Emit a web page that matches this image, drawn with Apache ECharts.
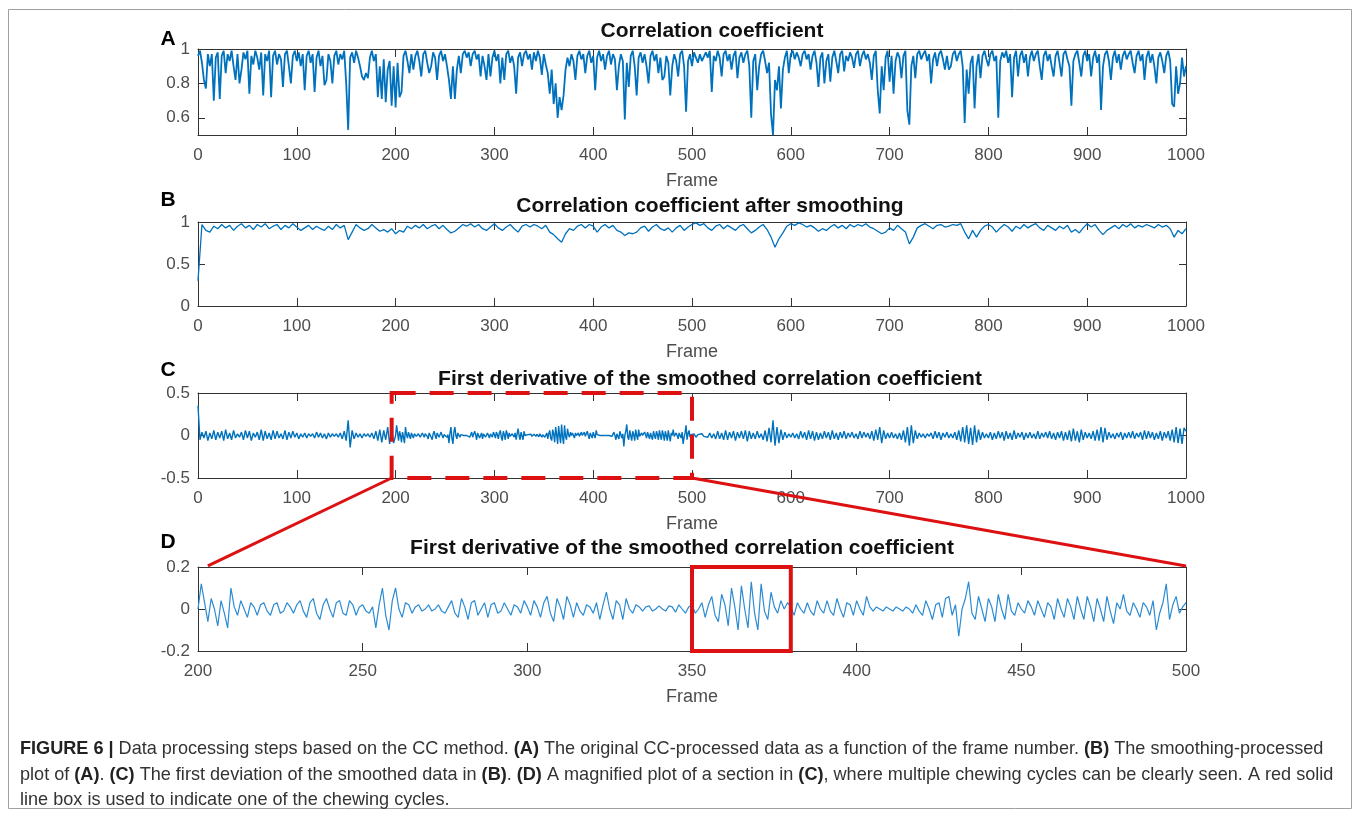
<!DOCTYPE html>
<html>
<head>
<meta charset="utf-8">
<script src="https://cdn.jsdelivr.net/npm/echarts@6/dist/echarts.min.js"></script>
<style>html,body{margin:0;padding:0;background:#fff;}#c{width:1360px;height:816px;}</style>
</head>
<body>
<div id="c"></div>
<script>
// ---------- DATA ----------
// Panel A: correlation coefficient, one value every 2 frames (frames 0..1000)
const aStep = 2;
const aValues = [
0.96,0.99,0.92,0.82,0.77,0.97,0.9,0.97,0.70,0.95,0.98,0.71,0.96,0.99,0.86,0.97,0.93,0.99,0.9,0.82,0.97,0.8,0.88,0.98,0.94,0.99,0.74,0.96,0.91,0.99,0.95,0.88,0.98,0.73,0.97,0.93,0.99,0.72,0.96,0.99,0.91,0.97,0.94,0.78,0.97,0.99,0.9,0.8,0.96,0.99,
0.93,0.98,0.9,0.97,0.76,0.96,0.99,0.92,0.97,0.75,0.95,0.99,0.9,0.96,0.79,0.82,0.97,0.93,0.8,0.96,0.99,0.91,0.97,0.94,0.99,0.8,0.53,0.95,0.98,0.92,0.99,0.95,0.9,0.84,0.82,0.86,0.83,0.95,0.99,0.93,0.97,0.72,0.9,0.71,0.94,0.69,0.88,0.93,0.67,0.9,
0.66,0.92,0.72,0.75,0.96,0.99,0.93,0.86,0.97,0.88,0.96,0.99,0.93,0.84,0.97,0.99,0.92,0.86,0.9,0.98,0.95,0.82,0.96,0.99,0.93,0.97,0.9,0.82,0.71,0.9,0.71,0.88,0.96,0.86,0.97,0.99,0.95,0.98,0.9,0.97,0.99,0.94,0.97,0.84,0.96,0.9,0.82,0.97,0.84,0.95,
0.99,0.93,0.97,0.8,0.95,0.82,0.97,0.99,0.92,0.96,0.9,0.74,0.95,0.98,0.9,0.97,0.99,0.94,0.97,0.88,0.98,0.93,0.99,0.95,0.85,0.97,0.91,0.86,0.74,0.88,0.68,0.8,0.6,0.72,0.645,0.73,0.88,0.95,0.9,0.97,0.93,0.82,0.96,0.99,0.94,0.97,0.86,0.96,0.99,0.92,
0.96,0.76,0.95,0.99,0.93,0.97,0.88,0.96,0.99,0.91,0.97,0.94,0.76,0.9,0.97,0.93,0.59,0.92,0.78,0.96,0.99,0.9,0.73,0.95,0.98,0.92,0.97,0.9,0.8,0.96,0.99,0.93,0.97,0.86,0.95,0.82,0.84,0.96,0.92,0.73,0.9,0.97,0.93,0.84,0.97,0.99,0.9,0.635,0.93,0.97,
0.9,0.98,0.95,0.92,0.97,0.93,0.92,0.98,0.95,0.99,0.75,0.96,0.93,0.99,0.95,0.84,0.97,0.99,0.93,0.97,0.88,0.96,0.99,0.83,0.95,0.98,0.92,0.97,0.99,0.9,0.6,0.93,0.97,0.76,0.9,0.97,0.99,0.93,0.86,0.92,0.62,0.5,0.82,0.76,0.9,0.655,0.88,0.95,0.99,0.86,
0.97,0.99,0.94,0.98,0.95,0.9,0.97,0.99,0.94,0.97,0.88,0.96,0.99,0.92,0.78,0.95,0.98,0.8,0.93,0.97,0.81,0.95,0.99,0.93,0.86,0.97,0.99,0.87,0.96,0.93,0.98,0.95,0.89,0.97,0.99,0.9,0.96,0.99,0.94,0.97,0.92,0.82,0.96,0.99,0.76,0.625,0.9,0.76,0.95,0.99,
0.81,0.96,0.74,0.93,0.98,0.95,0.83,0.96,0.99,0.64,0.56,0.9,0.96,0.83,0.97,0.99,0.94,0.97,0.99,0.93,0.97,0.8,0.94,0.98,0.9,0.97,0.99,0.94,0.88,0.96,0.88,0.9,0.97,0.99,0.93,0.97,0.99,0.9,0.57,0.88,0.74,0.92,0.96,0.655,0.9,0.97,0.83,0.96,0.99,0.94,
0.9,0.97,0.99,0.93,0.96,0.6,0.93,0.98,0.95,0.99,0.92,0.97,0.72,0.95,0.99,0.84,0.96,0.99,0.92,0.97,0.84,0.95,0.99,0.93,0.97,0.99,0.9,0.82,0.96,0.99,0.93,0.97,0.9,0.84,0.96,0.99,0.92,0.84,0.97,0.99,0.94,0.9,0.67,0.93,0.97,0.99,0.92,0.84,0.96,0.99,
0.93,0.97,0.84,0.95,0.99,0.92,0.97,0.645,0.9,0.97,0.99,0.93,0.82,0.95,0.99,0.92,0.97,0.88,0.96,0.99,0.94,0.97,0.99,0.92,0.86,0.96,0.99,0.93,0.97,0.82,0.95,0.99,0.92,0.97,0.9,0.8,0.95,0.98,0.93,0.86,0.96,0.99,0.93,0.68,0.665,0.9,0.74,0.8,0.95,0.84,0.9
];

// Panel B: smoothed correlation coefficient, one value every 4 frames (frames 0..1000)
const bStep = 4;
const bValues = [
0.3,0.97,0.9,0.88,0.95,0.92,0.97,0.93,0.96,0.9,0.95,0.98,0.93,0.96,0.91,0.97,0.94,0.98,0.92,0.95,0.97,0.91,0.96,0.93,0.98,
0.94,0.9,0.93,0.96,0.91,0.95,0.92,0.9,0.95,0.91,0.97,0.93,0.96,0.79,0.88,0.97,0.93,0.9,0.92,0.97,0.93,0.89,0.91,0.88,0.92,
0.86,0.9,0.88,0.95,0.92,0.96,0.93,0.97,0.92,0.95,0.97,0.92,0.96,0.91,0.87,0.89,0.93,0.97,0.95,0.98,0.94,0.97,0.92,0.9,0.94,
0.98,0.93,0.9,0.94,0.97,0.92,0.88,0.95,0.97,0.94,0.97,0.95,0.92,0.96,0.88,0.85,0.8,0.76,0.86,0.92,0.9,0.95,0.97,0.93,0.97,
0.95,0.88,0.94,0.97,0.93,0.96,0.9,0.88,0.84,0.87,0.86,0.88,0.93,0.95,0.89,0.94,0.97,0.92,0.9,0.93,0.88,0.93,0.96,0.9,0.94,
0.97,0.99,0.96,0.98,0.93,0.9,0.95,0.97,0.92,0.96,0.93,0.9,0.95,0.97,0.92,0.87,0.9,0.94,0.97,0.91,0.82,0.7,0.8,0.87,0.95,
0.98,0.96,0.99,0.97,0.94,0.96,0.93,0.89,0.92,0.9,0.94,0.97,0.93,0.96,0.92,0.97,0.94,0.97,0.95,0.98,0.94,0.92,0.89,0.86,0.88,
0.93,0.9,0.96,0.92,0.88,0.74,0.82,0.93,0.96,0.98,0.95,0.92,0.96,0.97,0.94,0.95,0.97,0.96,0.98,0.88,0.8,0.9,0.82,0.9,0.95,
0.97,0.94,0.88,0.93,0.97,0.94,0.89,0.95,0.92,0.97,0.93,0.96,0.98,0.93,0.9,0.96,0.93,0.9,0.95,0.92,0.96,0.88,0.91,0.87,0.93,
0.98,0.94,0.97,0.9,0.85,0.9,0.93,0.96,0.92,0.97,0.94,0.98,0.93,0.96,0.94,0.97,0.95,0.93,0.97,0.94,0.96,0.92,0.82,0.9,0.86,0.92
];

// Panel C: first derivative, frames 0..198 every 2 frames
const cPre = [
0.35,-0.05,0.04,-0.03,0.05,-0.06,0.03,-0.04,0.06,-0.05,
0.04,-0.03,0.05,-0.06,0.07,-0.04,0.03,-0.05,0.06,-0.03,
0.02,-0.02,0.04,-0.05,0.06,-0.03,0.05,-0.06,0.03,-0.02,
0.04,-0.05,0.07,-0.06,0.05,-0.04,0.03,-0.05,0.06,-0.04,
0.05,-0.03,0.02,-0.04,0.06,-0.05,0.04,-0.03,0.05,-0.02,
0.03,-0.04,0.02,-0.02,0.03,-0.03,0.02,-0.01,0.02,-0.03,
0.04,-0.02,0.03,-0.03,0.02,-0.04,0.03,-0.02,0.02,-0.01,
0.02,-0.02,0.03,-0.04,0.05,-0.06,0.18,-0.14,0.06,-0.04,
0.03,-0.02,0.02,-0.03,0.02,-0.01,0.02,-0.02,0.03,-0.04,
0.05,-0.06,0.07,-0.08,0.06,-0.05,0.1,-0.1,0.08,-0.09
];
// Panel D (and C between frames 200..500): first derivative, every frame
const dStart = 200;
const dValues = [
0.0,0.12,0.03,-0.06,0.05,0.0,-0.08,0.04,-0.02,-0.09,
0.1,0.01,-0.03,0.04,0.0,-0.04,0.03,0.01,-0.03,0.02,
0.03,-0.01,-0.03,0.02,0.03,-0.02,-0.01,0.03,0.01,-0.02,
0.02,0.04,-0.01,-0.04,0.03,0.05,-0.02,-0.05,0.02,0.05,
0.0,-0.04,0.03,0.04,-0.02,-0.03,0.04,0.02,-0.03,0.01,
0.02,-0.01,-0.02,0.01,-0.09,0.02,0.1,-0.03,-0.1,0.04,
0.1,0.0,-0.04,0.03,0.02,-0.02,0.01,0.02,-0.01,0.0,
0.02,-0.01,0.0,0.02,-0.01,-0.02,0.01,0.04,-0.02,-0.04,
0.05,0.01,-0.05,0.03,0.04,-0.03,0.0,0.03,-0.04,0.02,
0.03,-0.02,-0.01,0.03,0.0,-0.03,0.02,0.01,-0.02,0.04,
0.01,-0.03,0.04,0.01,-0.04,0.03,0.06,-0.02,-0.06,0.05,
0.01,-0.05,0.06,0.02,-0.04,0.03,-0.01,-0.03,0.02,0.01,
-0.02,0.03,-0.05,0.02,0.08,0.0,-0.05,0.04,0.02,-0.05,
0.05,0.0,-0.02,0.02,0.01,-0.01,0.01,0.015,-0.01,0.0,
0.015,0.0,-0.01,0.015,0.01,-0.015,0.02,0.0,-0.02,0.01,
0.02,-0.02,0.0,0.03,-0.04,0.02,0.06,-0.03,-0.06,0.07,
0.02,-0.08,0.1,0.01,-0.1,0.11,0.0,-0.09,0.13,-0.02,
-0.1,0.12,-0.01,-0.05,0.08,0.01,-0.02,0.04,0.0,0.03,
0.01,-0.03,0.03,0.0,-0.02,0.03,-0.01,-0.03,0.04,0.0,
-0.02,0.04,-0.01,-0.03,0.05,0.0,-0.04,0.03,0.02,-0.03,
0.04,0.0,-0.03,0.06,0.01,-0.01,0.01,0.0,-0.01,0.01,
0.0,-0.01,0.01,0.0,-0.01,0.01,0.0,-0.02,0.02,-0.01,
-0.03,0.04,0.0,-0.05,0.02,0.03,-0.04,0.05,0.06,-0.03,
0.02,-0.13,0.0,0.05,0.13,-0.02,-0.05,0.06,0.0,-0.06,
0.05,0.01,-0.06,0.07,0.0,-0.05,0.07,-0.01,-0.03,0.03,
0.0,-0.02,0.04,0.01,-0.03,0.04,0.0,-0.04,0.03,0.01,
-0.05,0.05,0.0,-0.04,0.05,0.01,-0.05,0.06,0.0,-0.05,
0.06,0.01,-0.06,0.05,0.0,-0.06,0.06,-0.01,-0.07,0.03,
0.0,0.07,-0.01,-0.03,0.03,0.0,-0.04,0.03,0.01,-0.03,
0.04,-0.1,-0.02,0.03,0.12,-0.05,0.02,0.06,-0.02,0.01,
0.03
];
// Panel C: frames 502..1000 every 2 frames
const cPostStart = 502;
const cPost = [
0.02,-0.02,0.01,-0.01,0.02,-0.01,0.01,-0.02,0.03,-0.03,
0.02,-0.04,0.05,-0.04,0.03,-0.05,0.06,-0.05,0.04,-0.03,
0.05,-0.06,0.04,-0.03,0.05,-0.04,0.06,-0.07,0.05,-0.04,
0.03,-0.04,0.05,-0.03,0.02,-0.05,0.06,-0.07,0.09,-0.08,
0.18,-0.12,0.1,-0.09,0.07,-0.05,0.04,-0.03,0.02,-0.02,
0.03,-0.03,0.02,-0.04,0.05,-0.03,0.04,-0.05,0.06,-0.04,
0.05,-0.06,0.04,-0.05,0.03,-0.04,0.05,-0.03,0.04,-0.05,
0.06,-0.04,0.03,-0.05,0.04,-0.03,0.05,-0.04,0.03,-0.02,
0.04,-0.03,0.02,-0.04,0.05,-0.03,0.04,-0.02,0.03,-0.04,
0.05,-0.06,0.07,-0.05,0.1,-0.09,0.06,-0.04,0.03,-0.03,
0.04,-0.03,0.02,-0.04,0.03,-0.05,0.06,-0.08,0.1,-0.12,
0.12,-0.09,0.06,-0.04,0.03,-0.02,0.02,-0.03,0.02,-0.01,
0.03,-0.04,0.05,-0.03,0.04,-0.05,0.03,-0.02,0.04,-0.03,
0.02,-0.03,0.04,-0.05,0.06,-0.07,0.1,-0.08,0.12,-0.1,
0.09,-0.11,0.12,-0.08,0.07,-0.05,0.04,-0.03,0.02,-0.03,
0.04,-0.05,0.03,-0.04,0.05,-0.03,0.04,-0.06,0.05,-0.04,
0.03,-0.05,0.06,-0.04,0.03,-0.02,0.04,-0.05,0.03,-0.03,
0.04,-0.03,0.02,-0.04,0.05,-0.04,0.03,-0.02,0.04,-0.03,
0.05,-0.04,0.03,-0.05,0.04,-0.03,0.05,-0.06,0.04,-0.05,
0.06,-0.07,0.08,-0.06,0.05,-0.08,0.07,-0.05,0.04,-0.03,
0.03,-0.04,0.05,-0.06,0.07,-0.06,0.1,-0.08,0.09,-0.05,
0.04,-0.03,0.02,-0.04,0.03,-0.02,0.04,-0.05,0.03,-0.03,
0.04,-0.03,0.05,-0.04,0.03,-0.02,0.04,-0.05,0.06,-0.04,
0.05,-0.03,0.04,-0.05,0.03,-0.04,0.05,-0.06,0.04,-0.03,
0.05,-0.06,0.07,-0.08,0.1,-0.09,0.08,-0.1,0.09,0.05
];

const titles = [
  'Correlation coefficient',
  'Correlation coefficient after smoothing',
  'First derivative of the smoothed correlation coefficient',
  'First derivative of the smoothed correlation coefficient'
];
const panelLetters = ['A', 'B', 'C', 'D'];
const xName = 'Frame';
// zoom region (C -> D) and chewing cycle box (D)
const zoomRange = [196, 500];
const cycleRange = [350, 380];

const captionLines = [
  '{b|FIGURE 6 |} Data processing steps based on the CC method. {b|(A)} The original CC-processed data as a function of the frame number. {b|(B)} The smoothing-processed',
  'plot of {b|(A)}. {b|(C)} The first deviation of the smoothed data in {b|(B)}. {b|(D)} A magnified plot of a section in {b|(C)}, where multiple chewing cycles can be clearly seen. A red solid',
  'line box is used to indicate one of the chewing cycles.'
];

// ---------- SERIES DATA ----------
const aData = aValues.map((v, i) => [i * aStep, v]);
const bData = bValues.map((v, i) => [i * bStep, v]);
const dData = dValues.map((v, i) => [dStart + i, v]);
const cData = cPre.map((v, i) => [i * 2, v])
  .concat(dData)
  .concat(cPost.map((v, i) => [cPostStart + i * 2, v]));

// ---------- LAYOUT ----------
const FONT = '"Liberation Sans", Arial, Helvetica, sans-serif';
const AX = '#333333';
const LBL = '#4d4d4d';
const grids = [
  {left: 198, right: 174, top: 49, height: 86},
  {left: 198, right: 174, top: 222, height: 84},
  {left: 198, right: 174, top: 393, height: 85},
  {left: 198, right: 174, top: 567, height: 84}
];
const xCfg = [
  {min: 0, max: 1000, interval: 100},
  {min: 0, max: 1000, interval: 100},
  {min: 0, max: 1000, interval: 100},
  {min: 200, max: 500, interval: 50}
];
const yCfg = [
  {min: 0.5, max: 1, custom: [0.6, 0.8, 1]},
  {min: 0, max: 1, interval: 0.5},
  {min: -0.5, max: 0.5, interval: 0.5},
  {min: -0.2, max: 0.2, interval: 0.2}
];
const fmt = v => String(Math.round(v * 1000) / 1000);

const xAxes = [], yAxes = [];
for (let i = 0; i < 4; i++) {
  xAxes.push({
    type: 'value', gridIndex: i, position: 'bottom',
    min: xCfg[i].min, max: xCfg[i].max, interval: xCfg[i].interval,
    name: xName, nameLocation: 'middle', nameGap: 37,
    nameTextStyle: {fontFamily: FONT, fontSize: 18, color: LBL},
    axisLine: {show: true, onZero: false, lineStyle: {color: AX, width: 1}},
    axisTick: {show: true, inside: true, length: 8, lineStyle: {color: AX}},
    axisLabel: {show: true, margin: 12, fontFamily: FONT, fontSize: 17, color: LBL, formatter: fmt},
    splitLine: {show: false}
  });
}
for (let i = 0; i < 4; i++) {
  xAxes.push({
    type: 'value', gridIndex: i, position: 'top',
    min: xCfg[i].min, max: xCfg[i].max, interval: xCfg[i].interval,
    axisLine: {show: true, onZero: false, lineStyle: {color: AX, width: 1}},
    axisTick: {show: true, inside: true, length: 8, lineStyle: {color: AX}},
    axisLabel: {show: false}, splitLine: {show: false}
  });
}
for (let i = 0; i < 4; i++) {
  const c = yCfg[i];
  const ax = {
    type: 'value', gridIndex: i, position: 'left', min: c.min, max: c.max,
    axisLine: {show: true, onZero: false, lineStyle: {color: AX, width: 1}},
    axisTick: {show: true, inside: true, length: 7, lineStyle: {color: AX}},
    axisLabel: {show: true, margin: 8, fontFamily: FONT, fontSize: 17, color: LBL, formatter: fmt},
    splitLine: {show: false}
  };
  if (c.custom) { ax.axisTick.customValues = c.custom; ax.axisLabel.customValues = c.custom; }
  else ax.interval = c.interval;
  yAxes.push(ax);
}
for (let i = 0; i < 4; i++) {
  const c = yCfg[i];
  const ax = {
    type: 'value', gridIndex: i, position: 'right', min: c.min, max: c.max,
    axisLine: {show: true, onZero: false, lineStyle: {color: AX, width: 1}},
    axisTick: {show: true, inside: true, length: 7, lineStyle: {color: AX}},
    axisLabel: {show: false}, splitLine: {show: false}
  };
  if (c.custom) { ax.axisTick.customValues = c.custom; ax.axisLabel.customValues = c.custom; }
  else ax.interval = c.interval;
  yAxes.push(ax);
}

const lineSeries = (i, data, color, width) => ({
  type: 'line', xAxisIndex: i, yAxisIndex: i, data: data,
  showSymbol: false, symbol: 'none', smooth: false, sampling: null,
  lineStyle: {color: color, width: width}, z: 3, animation: false, silent: true
});

const titleCenters = [712, 710, 710, 682];
const titleTops = [21, 196, 369, 538];
const letterYs = [39, 200, 370, 542];
const captionYs = [749, 775, 800];

const option = {
  backgroundColor: '#ffffff',
  animation: false,
  title: titles.map((t, i) => ({
    text: t, left: titleCenters[i], top: titleTops[i], textAlign: 'center', padding: 0,
    textStyle: {fontFamily: FONT, fontSize: 21, fontWeight: 'bold', color: '#111'}
  })),
  grid: grids,
  xAxis: xAxes,
  yAxis: yAxes,
  series: [
    lineSeries(0, aData, '#0072BD', 1.8),
    lineSeries(1, bData, '#0072BD', 1.3),
    lineSeries(2, cData, '#0072BD', 1.4),
    lineSeries(3, dData, '#2b8bd3', 1.2)
  ],
  graphic: [
    {id: 'border', type: 'rect', shape: {x: 8.5, y: 9.5, width: 1343, height: 799},
     style: {fill: 'none', stroke: '#a0a0a0', lineWidth: 1}, z: 0, silent: true}
  ].concat(panelLetters.map((L, i) => ({
    id: 'letter' + i, type: 'text', x: 168, y: letterYs[i],
    style: {text: L, fontFamily: FONT, fontSize: 21, fontWeight: 'bold', fill: '#000',
            align: 'center', verticalAlign: 'middle'}
  }))).concat(captionLines.map((t, i) => ({
    id: 'cap' + i, type: 'text', x: 20, y: captionYs[i],
    style: {text: t, fontFamily: FONT, fontSize: 18.1, fill: '#333', align: 'left', verticalAlign: 'middle',
            rich: {b: {fontFamily: FONT, fontSize: 18.1, fontWeight: 'bold', fill: '#222', color: '#222'}}}
  })))
};

const chart = echarts.init(document.getElementById('c'), null, {renderer: 'canvas'});
chart.setOption(option);

// ---------- RED ANNOTATIONS (positions from the axes' own scales) ----------
const px = (g, x, y) => chart.convertToPixel({gridIndex: g}, [x, y]);
const RED = '#dd1111';
const c1 = px(2, zoomRange[0], yCfg[2].max), c2 = px(2, zoomRange[1], yCfg[2].min);
const d1 = px(3, cycleRange[0], yCfg[3].max), d2 = px(3, cycleRange[1], yCfg[3].min);
const lStart = px(2, zoomRange[0], yCfg[2].min), lEnd = px(3, dStart + 3, yCfg[3].max + 0.005);
const rStart = px(2, zoomRange[1], yCfg[2].min), rEnd = px(3, xCfg[3].max, yCfg[3].max + 0.005);
chart.setOption({
  graphic: [
    {id: 'zoomBox', type: 'rect', z: 50,
     shape: {x: c1[0], y: c1[1], width: c2[0] - c1[0], height: c2[1] - c1[1]},
     style: {fill: 'none', stroke: RED, lineWidth: 4, lineDash: [24, 14]}},
    {id: 'lineL', type: 'line', z: 50,
     shape: {x1: lStart[0], y1: lStart[1], x2: lEnd[0], y2: lEnd[1]},
     style: {stroke: RED, lineWidth: 3}},
    {id: 'lineR', type: 'line', z: 50,
     shape: {x1: rStart[0], y1: rStart[1], x2: rEnd[0], y2: rEnd[1]},
     style: {stroke: RED, lineWidth: 3}},
    {id: 'cycleBox', type: 'rect', z: 50,
     shape: {x: d1[0], y: d1[1], width: d2[0] - d1[0], height: d2[1] - d1[1]},
     style: {fill: 'none', stroke: RED, lineWidth: 4}}
  ]
});
</script>
</body>
</html>
